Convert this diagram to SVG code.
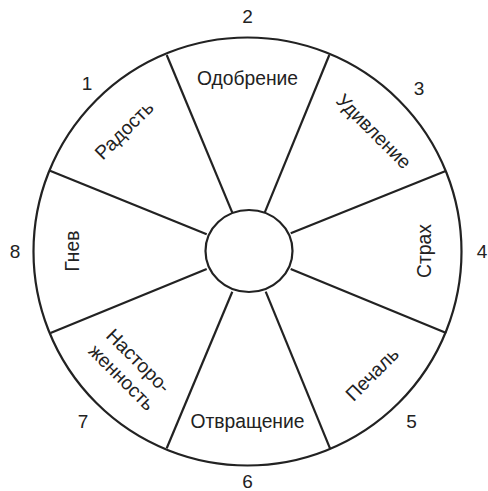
<svg xmlns="http://www.w3.org/2000/svg" width="488" height="491" viewBox="0 0 488 491">
<style>
.ln{stroke:#222;stroke-width:2.2;fill:none}
.t{font-family:"Liberation Sans",Arial,sans-serif;font-size:19.3px;fill:#222;text-anchor:middle}
.n{font-family:"Liberation Sans",Arial,sans-serif;font-size:19px;fill:#222;text-anchor:middle}
</style>
<rect width="488" height="491" fill="#fff"/>
<g id="outer"><circle class="ln" cx="247.5" cy="251.5" r="214" stroke-width="2.6"/></g>
<g id="connectors">
<line class="ln" x1="166.7" y1="55" x2="232.3" y2="212.7"/>
<line class="ln" x1="329.3" y1="55" x2="264.7" y2="212.7"/>
<line class="ln" x1="445.7" y1="171" x2="290.7" y2="233.3"/>
<line class="ln" x1="446.3" y1="333" x2="290.7" y2="269"/>
<line class="ln" x1="330" y1="448.3" x2="265.7" y2="291.7"/>
<line class="ln" x1="166.7" y1="448.3" x2="232.3" y2="291.7"/>
<line class="ln" x1="50.5" y1="333" x2="206.7" y2="269"/>
<line class="ln" x1="50" y1="170.7" x2="206.7" y2="234.3"/>
</g>
<g id="center"><ellipse class="ln" cx="249" cy="251" rx="43.5" ry="41"/></g>
<g id="s1"><text class="t" transform="translate(124,130) rotate(-45)" dy="6.8">Радость</text><text class="n" x="87" y="90">1</text></g>
<g id="s2"><text class="t" x="247.5" y="85">Одобрение</text><text class="n" x="247.5" y="23">2</text></g>
<g id="s3"><text class="t" transform="translate(374,131) rotate(45)" dy="6.8">Удивление</text><text class="n" x="419" y="95">3</text></g>
<g id="s4"><text class="t" transform="translate(424,251) rotate(-90)" dy="6.8">Страх</text><text class="n" x="482" y="258">4</text></g>
<g id="s5"><text class="t" transform="translate(372,374) rotate(-45)" dy="6.8">Печаль</text><text class="n" x="411.5" y="428">5</text></g>
<g id="s6"><text class="t" x="247.5" y="428.3">Отвращение</text><text class="n" x="247.5" y="487.5">6</text></g>
<g id="s7"><text class="t" transform="translate(130.3,369) rotate(45)"><tspan x="0" y="-5">Насторо-</tspan><tspan x="0" y="18.5">женность</tspan></text><text class="n" x="83" y="428">7</text></g>
<g id="s8"><text class="t" transform="translate(72.5,251) rotate(-90)" dy="6.8">Гнев</text><text class="n" x="15" y="258">8</text></g>
</svg>
